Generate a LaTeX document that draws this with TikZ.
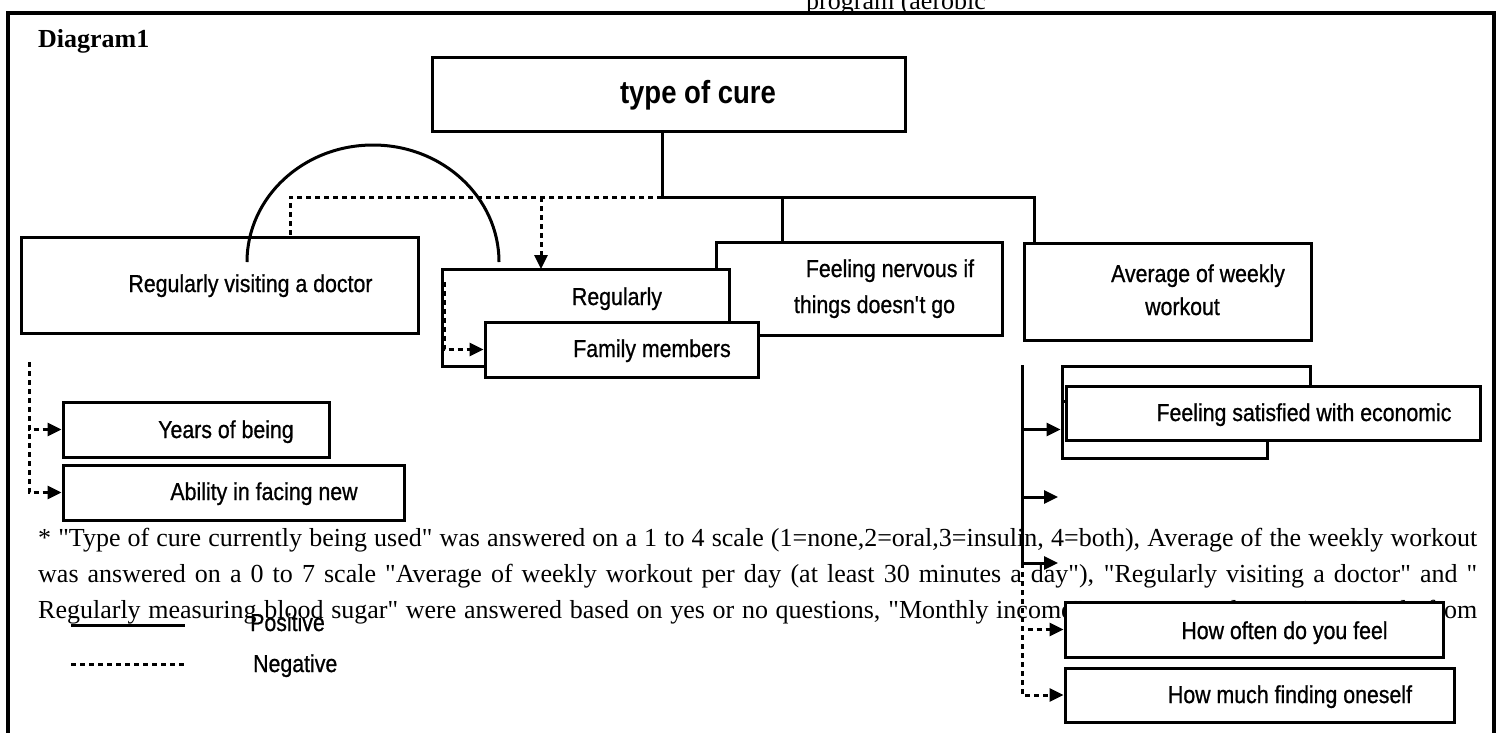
\documentclass[tikz,border=0pt]{standalone}
\usepackage{fontspec}
\setmainfont{Liberation Serif}
\newfontfamily\boxfont[FakeStretch=0.87, FakeBold=0.8]{Liberation Sans}
\newfontfamily\curefont[FakeStretch=0.86]{Liberation Sans}
\usetikzlibrary{arrows.meta}
\newcommand\dq{\textquotedbl}

\begin{document}
\begin{tikzpicture}[x=1pt, y=-1pt, >={Triangle[length=14pt, width=13pt]},
    box/.style={draw, line width=3pt, fill=white, inner sep=0pt},
    lbl/.style={anchor=base, inner sep=0pt, font=\boxfont\fontsize{24.5}{28}\selectfont},
    note/.style={anchor=base west, inner sep=0pt, font=\fontsize{26}{36}\selectfont},
    posline/.style={line width=3pt},
    negline/.style={line width=3pt, dash pattern=on 5pt off 4pt}]
  \useasboundingbox (0,0) rectangle (1502,732);
  \fill[white] (0,0) rectangle (1502,732);

  % frame, title and the note under the tree
  \draw[line width=4pt] (8,745) -- (8,13) -- (1494,13) -- (1494,745);
  \node[note, font=\bfseries\fontsize{26}{30}\selectfont] (head) at (38,47) {Diagram1};
  \node[note] (prog) at (806,9) {program (aerobic};
  \node[note] (note1) at (38,546) {\makebox[1439pt][s]{* \dq Type of cure currently being used\dq{} was answered on a 1 to 4 scale (1=none,2=oral,3=insulin, 4=both), Average of the weekly workout}};
  \node[note] (note2) at (38,582) {\makebox[1439pt][s]{was answered on a 0 to 7 scale \dq Average of weekly workout per day (at least 30 minutes a day\dq), \dq Regularly visiting a doctor\dq{} and \dq}};
  \node[note] (note3) at (38,618) {\makebox[1439pt][s]{Regularly measuring blood sugar\dq{} were answered based on yes or no questions, \dq Monthly income\dq{} was answered on a 1 to 5 scale from}};

  % top of the tree
  \node[box, minimum width=473pt, minimum height=74pt] (cure) at (668.5,94) {};
  \node[lbl, font=\curefont\bfseries\fontsize{32}{34}\selectfont] (curetxt) at (698,103) {type of cure};

  % first row of boxes
  \node[box, minimum width=397pt, minimum height=96pt] (doc) at (219.5,285) {};
  \node[lbl] (doctxt) at (250.5,292) {Regularly visiting a doctor};
  \node[box, minimum width=286pt, minimum height=93pt] (nervous) at (859,288.5) {};
  \node[lbl] (nervtxt1) at (890,277) {Feeling nervous if};
  \node[lbl] (nervtxt2) at (874.5,313) {things doesn\textquotesingle t go};
  \node[box, minimum width=287pt, minimum height=97pt] (sugar) at (585.5,317.5) {};
  \node[lbl] (sugartxt) at (617,305) {Regularly};
  \node[box, minimum width=273pt, minimum height=55pt] (family) at (621.5,349.5) {};
  \node[lbl] (familytxt) at (652,357) {Family members};
  \node[box, minimum width=287pt, minimum height=97pt] (workout) at (1167.5,291.5) {};
  \node[lbl] (worktxt1) at (1198,282) {Average of weekly};
  \node[lbl] (worktxt2) at (1182.5,315) {workout};

  % lower left boxes
  \node[box, minimum width=266pt, minimum height=55pt] (years) at (196,429.5) {};
  \node[lbl] (yearstxt) at (226,438) {Years of being};
  \node[box, minimum width=341pt, minimum height=55pt] (ability) at (233.5,492.5) {};
  \node[lbl] (abilitytxt) at (264,500) {Ability in facing new};

  % lower right boxes
  \node[box, minimum width=248pt, minimum height=54pt] (backA) at (1186,393) {};
  \node[box, minimum width=205pt, minimum height=57pt] (backB) at (1164.5,429.5) {};
  \node[box, minimum width=414pt, minimum height=54pt] (economic) at (1273,413) {};
  \node[lbl] (economictxt) at (1304,421) {Feeling satisfied with economic};
  \node[box, minimum width=378pt, minimum height=55pt] (often) at (1254,629.5) {};
  \node[lbl] (oftentxt) at (1284.5,639) {How often do you feel};
  \node[box, minimum width=389pt, minimum height=54pt] (much) at (1259.5,695) {};
  \node[lbl] (muchtxt) at (1290,703) {How much finding oneself};

  % solid links from type of cure
  \coordinate (hub) at (662,197);
  \coordinate (nervup) at (782,242);
  \coordinate (workup) at (1034,243);
  \draw[posline] (cure.south -| hub) -- (hub) -| (workup);
  \draw[posline] (hub) -| (nervup);

  % dotted links from type of cure
  \coordinate (docup) at (290,237);
  \coordinate (sugarup) at (541,269);
  \draw[negline] (hub) -| (docup);
  \draw[negline, ->] (hub -| sugarup) -- (sugarup);

  % arc between doctor and sugar
  \coordinate (arcstart) at (247,262);
  \draw[posline] (arcstart) arc[start angle=180, end angle=0, x radius=126pt, y radius=117pt];

  % sugar to family
  \coordinate (sugarside) at (444,282);
  \draw[negline, ->] (sugarside) |- (family.west);

  % left branch
  \coordinate (docdrop) at (29,362);
  \draw[negline, ->] (docdrop) |- (years.west);
  \draw[negline, ->] (docdrop) |- (ability.west);

  % right branch
  \coordinate (wtop) at (1022,365);
  \coordinate (wmid) at (1022,563);
  \coordinate (wfree1) at (1058,497);
  \coordinate (wfree2) at (1058,563);
  \draw[posline, ->] (wtop) |- (backB.west);
  \draw[posline, ->] (wtop) |- (wfree1);
  \draw[posline, ->] (wtop) |- (wfree2);
  \draw[negline, ->] (wmid) |- (often.west);
  \draw[negline, ->] (wmid) |- (much.west);

  % legend
  \draw[posline] (71,625) -- (185,625);
  \node[lbl, anchor=base west] (postxt) at (250,631) {Positive};
  \draw[negline] (71,664) -- (185,664);
  \node[lbl, anchor=base west] (negtxt) at (253,672) {Negative};
\end{tikzpicture}
\end{document}
